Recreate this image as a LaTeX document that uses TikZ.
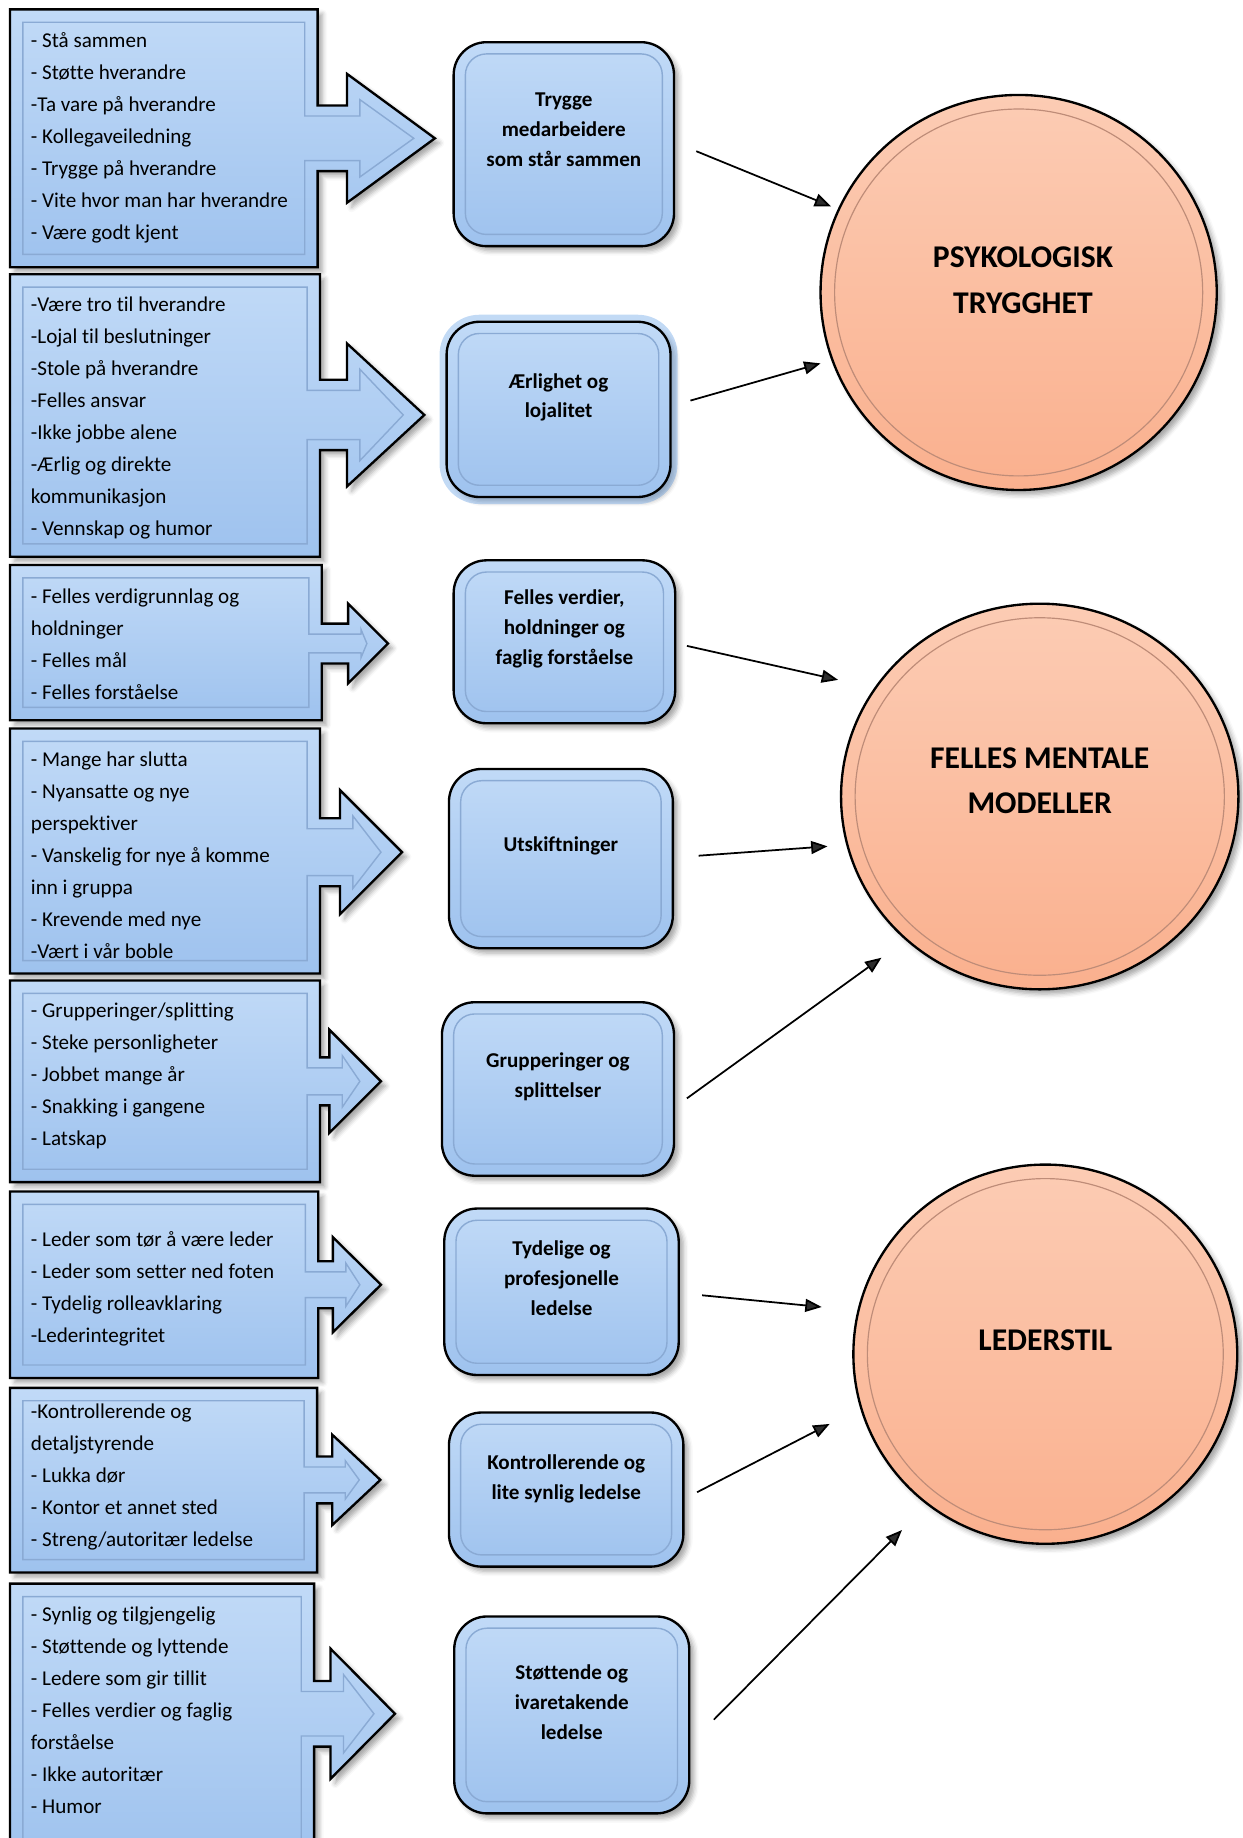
\documentclass[tikz,border=0pt]{standalone}
\usepackage{fontspec}
\setmainfont{Carlito}[Ligatures=NoCommon]
\usetikzlibrary{shapes.geometric,shadows.blur,arrows.meta}

\definecolor{boxtop}{RGB}{193,218,247}
\definecolor{boxbot}{RGB}{158,194,238}
\definecolor{bevelline}{RGB}{138,170,212}
\definecolor{goaltop}{RGB}{252,204,180}
\definecolor{goalbot}{RGB}{250,176,142}
\definecolor{ringline}{RGB}{190,140,120}
\definecolor{glowblue}{RGB}{120,172,232}

\tikzset{
  softshadow/.style={blur shadow={shadow xshift=2pt,shadow yshift=-2pt,shadow blur radius=2pt,shadow opacity=35}},
  callout/.style={draw=black,line width=1pt,top color=boxtop,bottom color=boxbot,softshadow},
  bevel/.style={draw=bevelline,line width=0.6pt},
  list/.style={anchor=north west,align=left,inner sep=0pt,font=\fontsize{9}{13.65}\selectfont,execute at begin node=\strut},
  card/.style={rectangle,rounded corners=14pt,draw=black,line width=1pt,top color=boxtop,bottom color=boxbot,inner sep=0pt,softshadow},
  cardtext/.style={anchor=north,align=center,inner sep=0pt,font=\fontsize{9}{12.75}\selectfont\bfseries,execute at begin node=\strut},
  goal/.style={ellipse,draw=black,line width=1pt,top color=goaltop,bottom color=goalbot,inner sep=0pt,softshadow},
  ring/.style={draw=ringline,line width=0.5pt},
  goaltext/.style={align=center,inner sep=0pt,font=\fontsize{13.5}{19.5}\selectfont\bfseries},
  conn/.style={-{Triangle[length=7pt,width=5.5pt]},line width=0.75pt}
}

% top, bottom, right, head base, tip x, tip y, shaft half, head half
\newcommand{\arrowbox}[8]{%
  \path[callout] (8.5,#1) -- (#3,#1) -- (#3,{#6-#7}) -- (#4,{#6-#7}) -- (#4,{#6-#8})
    -- (#5,#6) -- (#4,{#6+#8}) -- (#4,{#6+#7}) -- (#3,{#6+#7}) -- (#3,#2) -- (8.5,#2) -- cycle;
  \draw[bevel] (19.5,{#1+11}) -- ({#3-11},{#1+11}) -- ({#3-11},{#6-#7+9}) -- ({#4+11},{#6-#7+9})
    -- ({#4+11},{#6-#8+22}) -- ({#5-18},#6) -- ({#4+11},{#6+#8-22}) -- ({#4+11},{#6+#7-9})
    -- ({#3-11},{#6+#7-9}) -- ({#3-11},{#2-11}) -- (19.5,{#2-11}) -- cycle;
}

\begin{document}
\begin{tikzpicture}[x=0.5pt,y=-0.5pt]
\useasboundingbox (0,0) rectangle (1060,1568);
\clip (0,0) rectangle (1060,1568);

% left lists with arrows
\arrowbox{8}{228}{271}{296}{371}{118}{28}{55}
\arrowbox{234}{475}{273}{296}{362}{354}{30}{61}
\arrowbox{482}{614.5}{274.5}{297}{331}{549}{17}{34}
\arrowbox{621.5}{830.5}{273}{290}{343}{727}{29}{53}
\arrowbox{836.5}{1008.5}{273}{281}{325}{922.5}{20.5}{44}
\arrowbox{1016.5}{1175.5}{271.5}{284}{325}{1096}{20}{40.5}
\arrowbox{1184}{1341.5}{270.5}{283.5}{324.5}{1262.5}{20}{38.5}
\arrowbox{1351}{1590}{268}{282}{337}{1462}{28}{55.5}

\node[list] (l1) at (26,27) {- Stå sammen\\- Støtte hverandre\\-Ta vare på hverandre\\- Kollegaveiledning\\- Trygge på hverandre\\- Vite hvor man har hverandre\\- Være godt kjent};
\node[list] (l2) at (26,252.7) {-Være tro til hverandre\\-Lojal til beslutninger\\-Stole på hverandre\\-Felles ansvar\\-Ikke jobbe alene\\-Ærlig og direkte\\kommunikasjon\\- Vennskap og humor};
\node[list] (l3) at (26,501.7) {- Felles verdigrunnlag og\\holdninger\\- Felles mål\\- Felles forståelse};
\node[list] (l4) at (26,640.7) {- Mange har slutta\\- Nyansatte og nye\\perspektiver\\- Vanskelig for nye å komme\\inn i gruppa\\- Krevende med nye\\-Vært i vår boble};
\node[list] (l5) at (26,855.5) {- Grupperinger/splitting\\- Steke personligheter\\- Jobbet mange år\\- Snakking i gangene\\- Latskap};
\node[list] (l6) at (26,1050.5) {- Leder som tør å være leder\\- Leder som setter ned foten\\- Tydelig rolleavklaring\\-Lederintegritet};
\node[list] (l7) at (26,1197) {-Kontrollerende og\\detaljstyrende\\- Lukka dør\\- Kontor et annet sted\\- Streng/autoritær ledelse};
\node[list] (l8) at (26,1370.5) {- Synlig og tilgjengelig\\- Støttende og lyttende\\- Ledere som gir tillit\\- Felles verdier og faglig\\forståelse\\- Ikke autoritær\\- Humor};

% middle cards
\node[card,minimum width=94pt,minimum height=87pt] (m1) at (481,123) {};
\node[card,minimum width=95.5pt,minimum height=74.75pt,preaction={draw=glowblue,line width=6pt,draw opacity=0.45}] (m2) at (476.5,349.25) {};
\node[card,minimum width=94.5pt,minimum height=69.5pt] (m3) at (481.5,547.5) {};
\node[card,minimum width=95.5pt,minimum height=76.5pt] (m4) at (478.5,732.5) {};
\node[card,minimum width=99pt,minimum height=74pt] (m5) at (476,929) {};
\node[card,minimum width=100pt,minimum height=71pt] (m6) at (479,1102) {};
\node[card,minimum width=100pt,minimum height=65.75pt] (m7) at (483,1270.75) {};
\node[card,minimum width=100.25pt,minimum height=84pt] (m8) at (487.75,1463) {};

\draw[bevel,rounded corners=9pt] ([shift={(11,11)}]m1.north west) rectangle ([shift={(-11,-11)}]m1.south east);
\draw[bevel,rounded corners=9pt] ([shift={(11,11)}]m2.north west) rectangle ([shift={(-11,-11)}]m2.south east);
\draw[bevel,rounded corners=9pt] ([shift={(11,11)}]m3.north west) rectangle ([shift={(-11,-11)}]m3.south east);
\draw[bevel,rounded corners=9pt] ([shift={(11,11)}]m4.north west) rectangle ([shift={(-11,-11)}]m4.south east);
\draw[bevel,rounded corners=9pt] ([shift={(11,11)}]m5.north west) rectangle ([shift={(-11,-11)}]m5.south east);
\draw[bevel,rounded corners=9pt] ([shift={(11,11)}]m6.north west) rectangle ([shift={(-11,-11)}]m6.south east);
\draw[bevel,rounded corners=9pt] ([shift={(11,11)}]m7.north west) rectangle ([shift={(-11,-11)}]m7.south east);
\draw[bevel,rounded corners=9pt] ([shift={(11,11)}]m8.north west) rectangle ([shift={(-11,-11)}]m8.south east);

\node[cardtext] (t1) at (481,79) {Trygge\\medarbeidere\\som står sammen};
\node[cardtext] (t2) at (476.5,318) {Ærlighet og\\lojalitet};
\node[cardtext] (t3) at (481.5,503) {Felles verdier,\\holdninger og\\faglig forståelse};
\node[cardtext] (t4) at (478.5,708) {Utskiftninger};
\node[cardtext] (t5) at (476,898) {Grupperinger og\\splittelser};
\node[cardtext] (t6) at (479,1058) {Tydelige og\\profesjonelle\\ledelse};
\node[cardtext] (t7) at (483,1240.6) {Kontrollerende og\\lite synlig ledelse};
\node[cardtext] (t8) at (487.75,1420) {Støttende og\\ivaretakende\\ledelse};

% goals
\node[goal,minimum width=169pt,minimum height=168.5pt] (g1) at (869,249.5) {};
\node[goal,minimum width=169.5pt,minimum height=164.5pt] (g2) at (887,679.5) {};
\node[goal,minimum width=163.75pt,minimum height=161.75pt] (g3) at (891.75,1155.25) {};
\draw[ring] (g1.center) ellipse [x radius=78.5pt,y radius=78.25pt];
\draw[ring] (g2.center) ellipse [x radius=78.75pt,y radius=76.25pt];
\draw[ring] (g3.center) ellipse [x radius=75.9pt,y radius=74.9pt];

\node[goaltext] (g1t) at ([shift={(3.7,-10.5)}]g1.center) {PSYKOLOGISK\\TRYGGHET};
\node[goaltext] (g2t) at ([shift={(0,-13.5)}]g2.center) {FELLES MENTALE\\MODELLER};
\node[goaltext] (g3t) at ([shift={(0,-12)}]g3.center) {LEDERSTIL};

% connectors
\draw[conn] ([shift={(18,6)}]m1.east) -- ([shift={(-160,-73.5)}]g1.center);
\draw[conn] ([shift={(16,-7.5)}]m2.east) -- ([shift={(-169,60.5)}]g1.center);
\draw[conn] ([shift={(9,3.5)}]m3.east) -- ([shift={(-172,-99.5)}]g2.center);
\draw[conn] ([shift={(21,-2.5)}]m4.east) -- ([shift={(-181,42.5)}]g2.center);
\draw[conn] ([shift={(10,8)}]m5.east) -- ([shift={(-135,137.5)}]g2.center);
\draw[conn] ([shift={(19,3)}]m6.east) -- ([shift={(-190.75,-40.25)}]g3.center);
\draw[conn] ([shift={(10.7,2.25)}]m7.east) -- ([shift={(-184,59.5)}]g3.center);
\draw[conn] ([shift={(20,4)}]m8.east) -- ([shift={(-122.25,150)}]g3.center);
\end{tikzpicture}
\end{document}
